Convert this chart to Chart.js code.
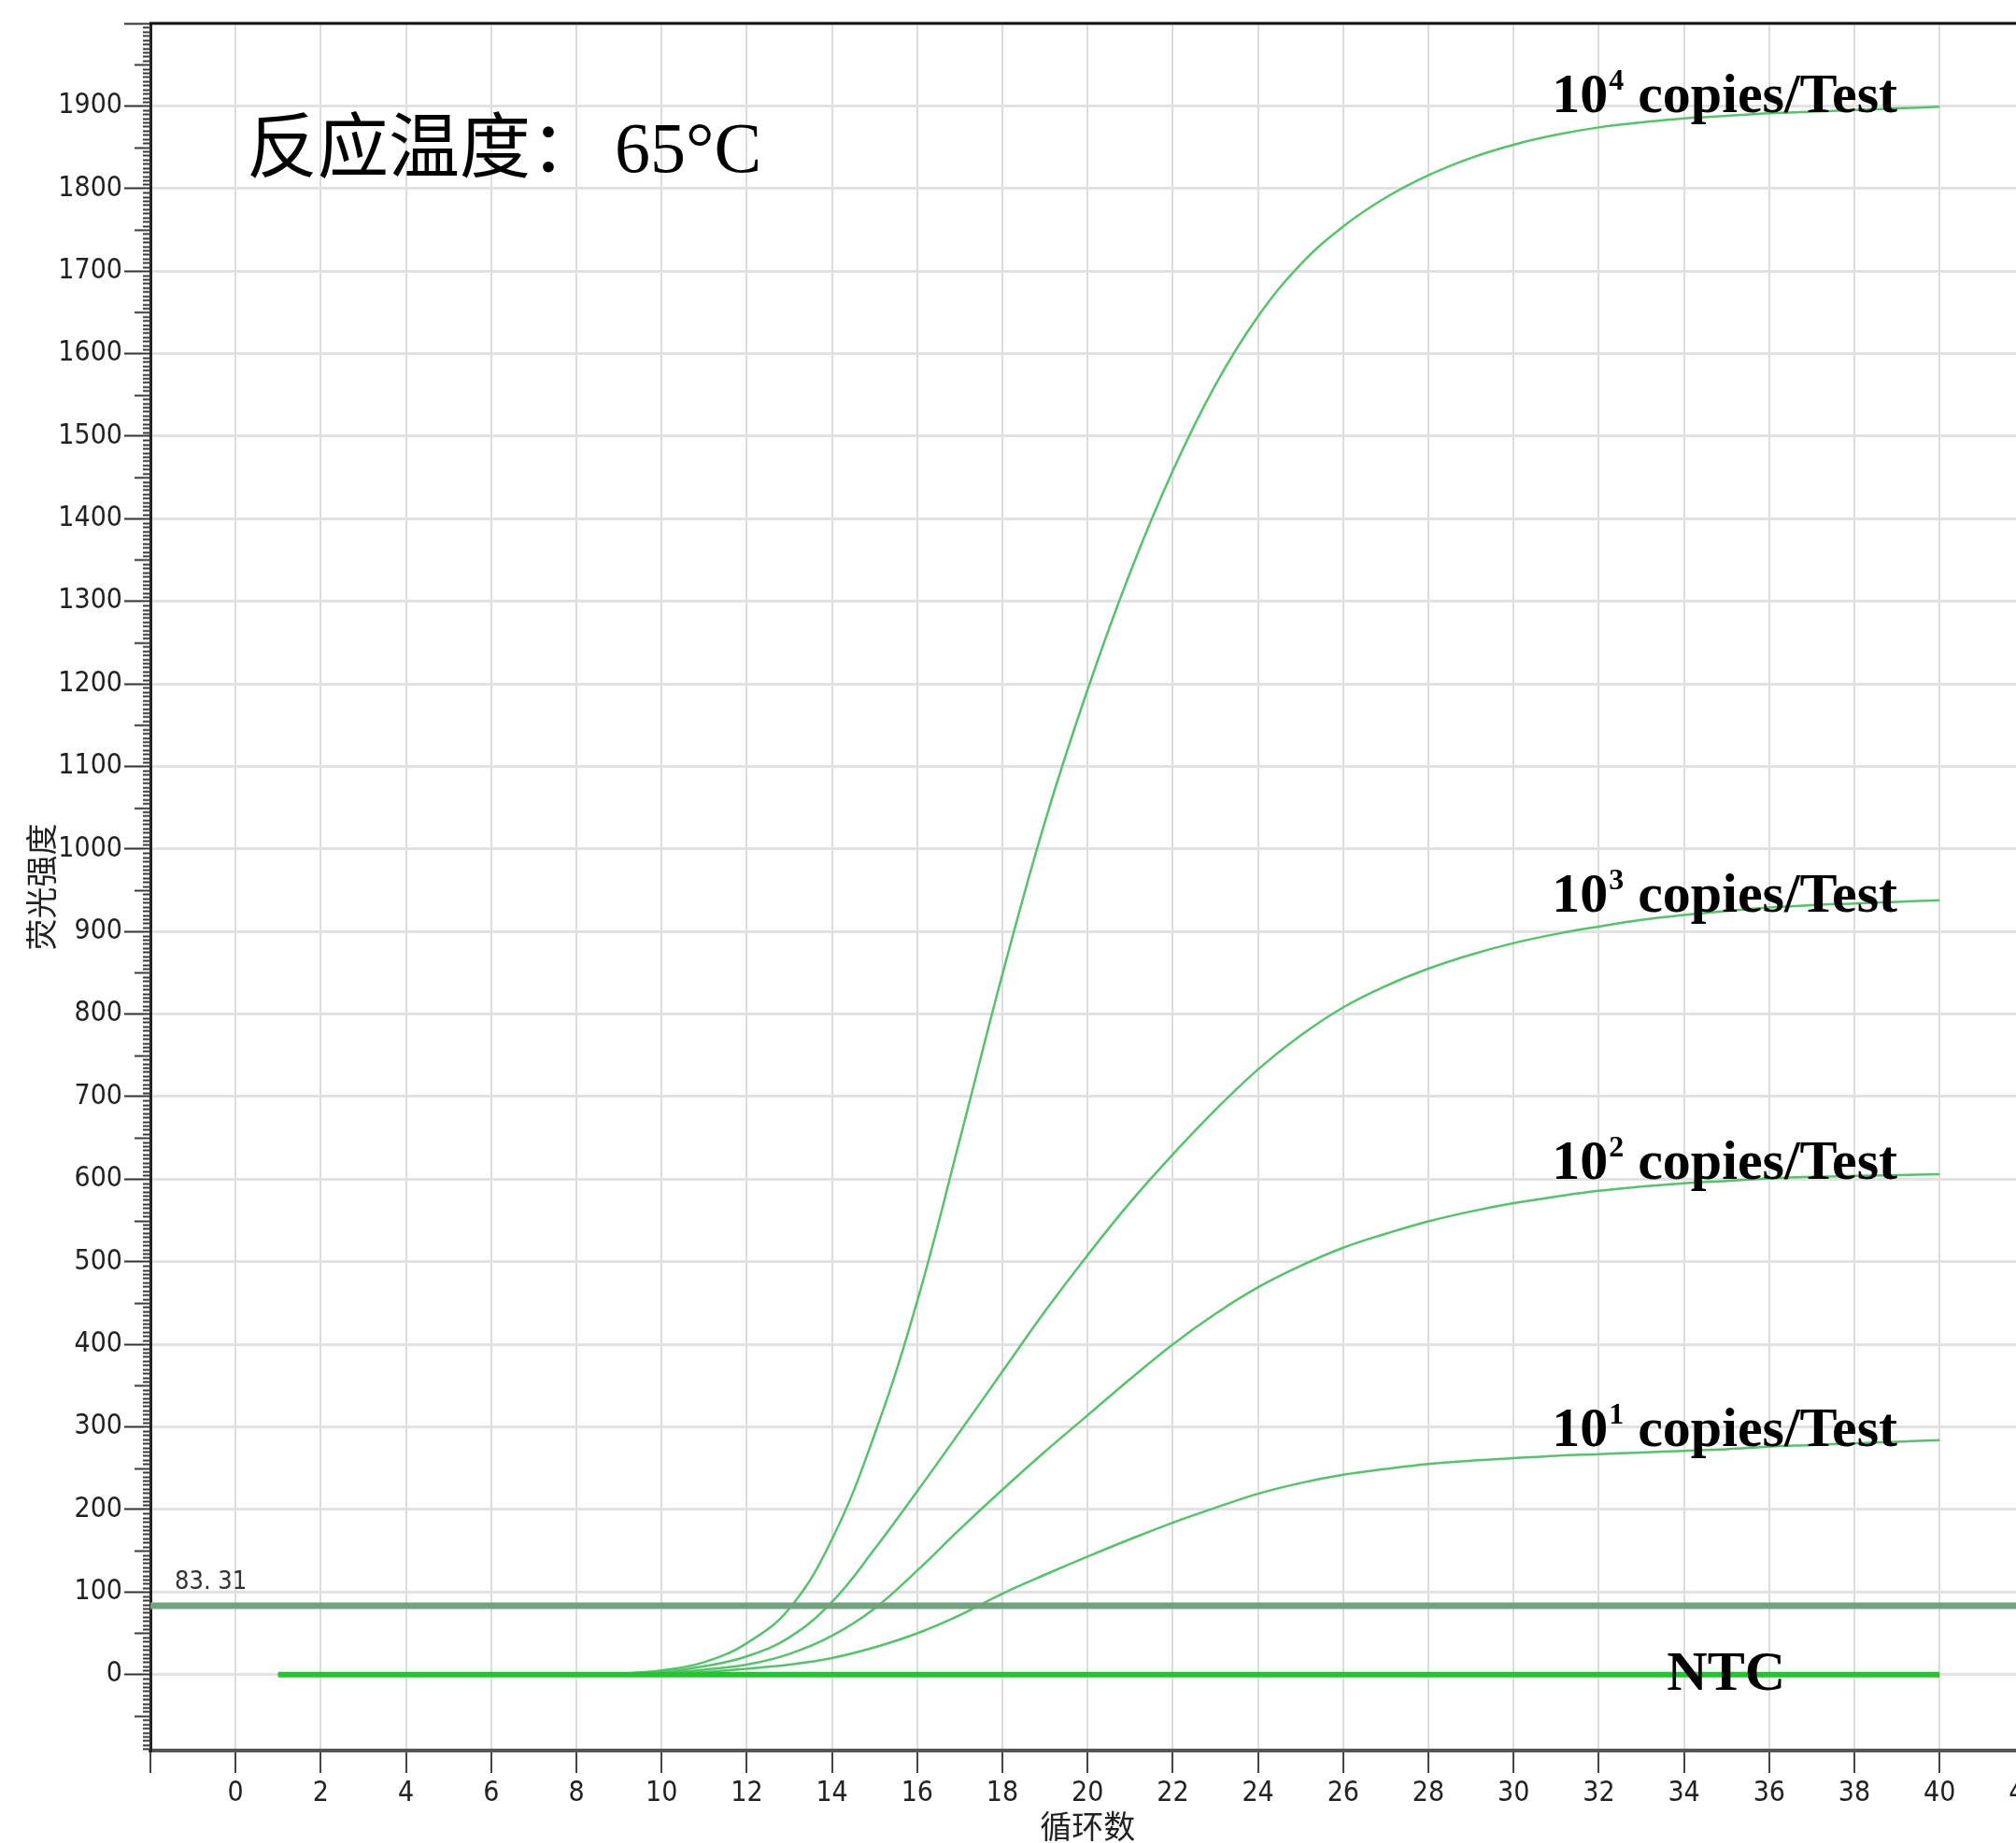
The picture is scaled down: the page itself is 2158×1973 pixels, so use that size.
<!DOCTYPE html>
<html>
<head>
<meta charset="utf-8">
<script src="https://cdn.jsdelivr.net/npm/chart.js@4.4.1/dist/chart.umd.min.js"></script>
<style>
  html, body { margin: 0; padding: 0; background: #fff; overflow: hidden; }
  canvas { display: block; }
</style>
</head>
<body>
<canvas id="ampChart" width="2240" height="1973"></canvas>
<script>
// amplification curves, one value per cycle
const cycles = [1, 2, 3, 4, 5, 6, 7, 8, 9, 10, 11, 12, 13, 14, 15, 16, 17, 18, 19, 20,
    21, 22, 23, 24, 25, 26, 27, 28, 29, 30, 31, 32, 33, 34, 35, 36, 37, 38, 39, 40];

const copies1e4 = [0, 0, 0, 0, 0, 0, 0, 0, 1, 5, 15, 38, 80, 164, 291, 452, 648, 848, 1033, 1193,
    1335, 1458, 1562, 1645, 1708, 1754, 1789, 1816, 1837, 1853, 1865, 1874, 1880, 1885, 1888, 1891, 1893, 1895, 1897, 1899];
const copies1e3 = [0, 0, 0, 0, 0, 0, 0, 0, 1, 3, 10, 22, 45, 88, 152, 222, 294, 367, 440, 508,
    572, 630, 684, 733, 774, 808, 834, 855, 872, 886, 897, 906, 914, 920, 925, 929, 932, 934, 936, 938];
const copies1e2 = [0, 0, 0, 0, 0, 0, 0, 0, 1, 2, 6, 12, 25, 47, 80, 126, 176, 224, 270, 314,
    358, 400, 437, 469, 495, 517, 534, 549, 561, 571, 579, 586, 591, 595, 598, 601, 603, 604, 605, 606];
const copies1e1 = [0, 0, 0, 0, 0, 0, 0, 0, 0, 1, 3, 7, 12, 20, 33, 50, 72, 98, 121, 143,
    164, 184, 202, 219, 232, 242, 249, 255, 259, 262, 265, 267, 269, 271, 273, 276, 278, 280, 282, 284];
const ntc = [0, 0, 0, 0, 0, 0, 0, 0, 0, 0, 0, 0, 0, 0, 0, 0, 0, 0, 0, 0,
    0, 0, 0, 0, 0, 0, 0, 0, 0, 0, 0, 0, 0, 0, 0, 0, 0, 0, 0, 0];

const xTicks = [-2, 0, 2, 4, 6, 8, 10, 12, 14, 16, 18, 20, 22, 24, 26, 28, 30, 32, 34, 36, 38, 40, 42];
const yTicks = [0, 100, 200, 300, 400, 500, 600, 700, 800, 900, 1000,
    1100, 1200, 1300, 1400, 1500, 1600, 1700, 1800, 1900, 2000];

const threshold = 83.31;
const thresholdLabel = "83. 31";
const seriesNames = ["10⁴ copies/Test", "10³ copies/Test", "10² copies/Test", "10¹ copies/Test"];
const exponents = ["4", "3", "2", "1"];
const title = "反应温度：";
const titleTemp = "65°C";
const xTitle = "循环数";
const yTitle = "荧光强度";

const toPoints = (vals) => vals.map((v, i) => ({ x: cycles[i], y: v }));

const curveColor = "#55c36b";
const tickFont = "'Liberation Sans Narrow', 'DejaVu Sans Condensed', sans-serif";

// extra drawing: minor ticks, frame top, titles and in-plot labels
const decorations = {
    id: "decorations",
    afterDraw(chart) {
        const { ctx, chartArea } = chart;
        const x = chart.scales.x;
        const y = chart.scales.y;
        ctx.save();

        // minor / medium ticks on the y axis
        ctx.strokeStyle = "#3a3a3a";
        ctx.lineWidth = 2;
        for (let v = -90; v < 2000; v += 5) {
            if (v % 100 === 0) continue;
            const len = v % 50 === 0 ? 17 : 8;
            const py = Math.round(y.getPixelForValue(v)) + 0.5;
            ctx.beginPath();
            ctx.moveTo(chartArea.left - len, py);
            ctx.lineTo(chartArea.left, py);
            ctx.stroke();
        }

        // top frame
        ctx.strokeStyle = "#111";
        ctx.lineWidth = 3;
        ctx.beginPath();
        ctx.moveTo(chartArea.left - 1, chartArea.top);
        ctx.lineTo(chartArea.right, chartArea.top);
        ctx.stroke();

        // axis titles
        ctx.fillStyle = "#222";
        ctx.font = "34px 'Noto Sans CJK SC'";
        ctx.textAlign = "center";
        ctx.textBaseline = "middle";
        ctx.fillText(xTitle, x.getPixelForValue(20), 1955);
        ctx.save();
        ctx.translate(44, (chartArea.top + chartArea.bottom) / 2);
        ctx.rotate(-Math.PI / 2);
        ctx.fillText(yTitle, 0, 0);
        ctx.restore();

        // threshold value
        ctx.fillStyle = "#333";
        ctx.font = "27px " + tickFont;
        ctx.textAlign = "left";
        ctx.fillText(thresholdLabel, x.getPixelForValue(-1.43), y.getPixelForValue(112));

        // chart title
        ctx.fillStyle = "#000";
        ctx.textBaseline = "alphabetic";
        ctx.font = "76px 'Noto Sans CJK SC'";
        ctx.fillText(title, x.getPixelForValue(0.26), y.getPixelForValue(1820));
        ctx.font = "76px 'Liberation Serif', serif";
        ctx.fillText(titleTemp, x.getPixelForValue(8.9), y.getPixelForValue(1820));

        // curve labels
        const baselines = [1892, 924, 600, 277];
        seriesNames.forEach((name, i) => {
            let px = x.getPixelForValue(30.9);
            const py = y.getPixelForValue(baselines[i]);
            ctx.font = "bold 60px 'Liberation Serif', serif";
            ctx.fillText("10", px, py);
            px += ctx.measureText("10").width + 1;
            ctx.font = "bold 32px 'Liberation Serif', serif";
            ctx.fillText(exponents[i], px, py - 24);
            px += ctx.measureText(exponents[i]).width;
            ctx.font = "bold 60px 'Liberation Serif', serif";
            ctx.fillText(" copies/Test", px, py);
        });
        ctx.font = "bold 60px 'Liberation Serif', serif";
        ctx.fillText("NTC", x.getPixelForValue(33.6), y.getPixelForValue(-18));

        ctx.restore();
    },
};

const curve = (label, vals) => ({
    label: label,
    data: toPoints(vals),
    borderColor: curveColor,
    borderWidth: 2.5,
    pointRadius: 0,
    tension: 0.4,
    fill: false,
});

const config = {
    type: "line",
    data: {
        datasets: [
            {
                label: "threshold",
                data: [{ x: -2, y: threshold }, { x: 43, y: threshold }],
                borderColor: "#71a37e",
                borderWidth: 7,
                pointRadius: 0,
            },
            {
                label: "NTC",
                data: toPoints(ntc),
                borderColor: "#24c42c",
                borderWidth: 6,
                pointRadius: 0,
            },
            curve(seriesNames[0], copies1e4),
            curve(seriesNames[1], copies1e3),
            curve(seriesNames[2], copies1e2),
            curve(seriesNames[3], copies1e1),
        ],
    },
    options: {
        responsive: false,
        devicePixelRatio: 1,
        animation: false,
        layout: { padding: { top: 25, right: 27, left: 0, bottom: 0 } },
        plugins: {
            legend: { display: false },
            tooltip: { enabled: false },
        },
        scales: {
            x: {
                type: "linear",
                min: -2,
                max: 43,
                afterFit: (scale) => { scale.height = 99; },
                afterBuildTicks: (scale) => { scale.ticks = xTicks.map((v) => ({ value: v })); },
                ticks: {
                    autoSkip: false,
                    maxRotation: 0,
                    padding: 4,
                    color: "#222",
                    font: { family: tickFont, size: 30 },
                    callback: (v) => (v < 0 ? "" : v),
                },
                grid: {
                    color: "#dcdcdc",
                    lineWidth: 2,
                    tickColor: "#444",
                    tickWidth: 2,
                    tickLength: 24,
                },
                border: { color: "#555", width: 4 },
            },
            y: {
                min: -92,
                max: 2000,
                afterFit: (scale) => { scale.width = 161; },
                afterBuildTicks: (scale) => { scale.ticks = yTicks.map((v) => ({ value: v })); },
                ticks: {
                    autoSkip: false,
                    padding: 2,
                    color: "#222",
                    font: { family: tickFont, size: 30 },
                    callback: (v) => (v >= 2000 ? "" : v),
                },
                grid: {
                    color: "#e2e2e2",
                    lineWidth: 3,
                    tickColor: "#333",
                    tickWidth: 2,
                    tickLength: 28,
                },
                border: { color: "#222", width: 3 },
            },
        },
    },
    plugins: [decorations],
};

const ampCtx = document.getElementById("ampChart");
window.ampChart = new Chart(ampCtx, config);
</script>
</body>
</html>
